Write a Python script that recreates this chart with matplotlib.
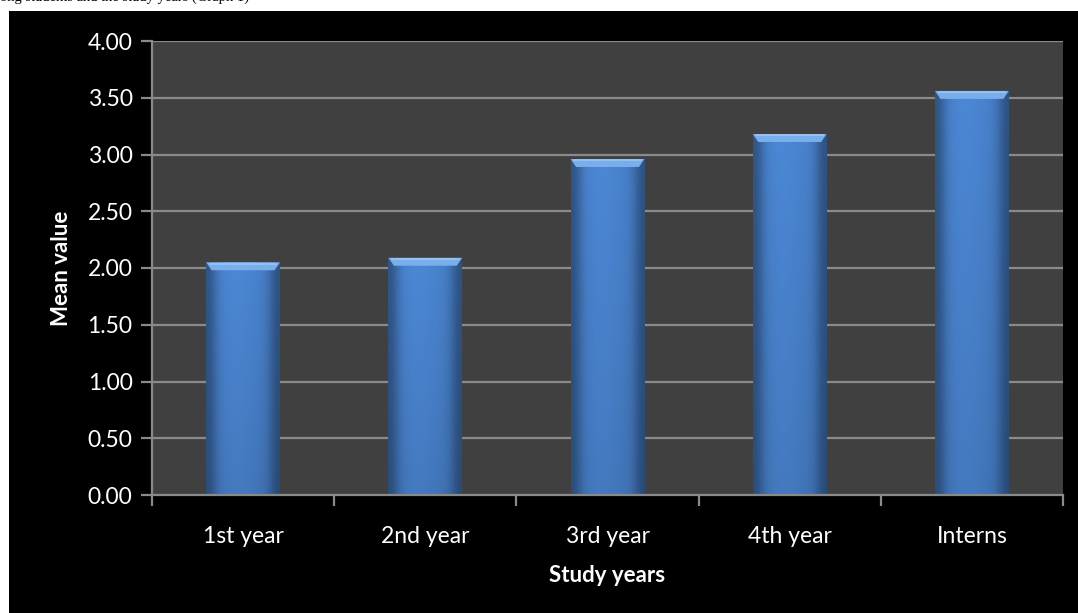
import matplotlib.pyplot as plt
import matplotlib.patches as mpatches
import numpy as np

categories = ["1st year", "2nd year", "3rd year", "4th year", "Interns"]
mean_values = [2.05, 2.09, 2.96, 3.18, 3.56]
y_ticks = [0.0, 0.5, 1.0, 1.5, 2.0, 2.5, 3.0, 3.5, 4.0]

W, H = 1078, 613
fig = plt.figure(figsize=(W / 100, H / 100), dpi=100, facecolor="white")

# cut-off caption line from the page above the chart
fig.text(0.0, 1 - 1 / H, "ong students and the study years (Graph 1)", family="Liberation Serif",
         fontsize=10.5, color="black", ha="left", va="baseline")

# black chart area
fig.add_artist(mpatches.Rectangle((9 / W, 0), 1 - 9 / W, 1 - 11 / H, transform=fig.transFigure,
                                  facecolor="black", edgecolor="none", zorder=-10))

ax = fig.add_axes([152 / W, (H - 495) / H, (1063 - 152) / W, (495 - 41) / H])
ax.set_zorder(1)
ax.set_facecolor("#404040")
ax.set_xlim(-0.5, len(categories) - 0.5)
ax.set_ylim(0, 4)

grid_col = "#8a8a8a"
for y in y_ticks[1:]:
    ax.axhline(y, color=grid_col, lw=1.6, zorder=1)

x = np.arange(len(categories))
width = 0.405
bars = ax.bar(x, mean_values, width=width, color="#4682d0", zorder=2)

# horizontal gradient for the bevelled look
grad = np.array([0.62, 0.92, 0.98, 1.0, 0.99, 0.97, 0.95, 0.88, 0.6])
base = np.array([0x4c, 0x88, 0xd6]) / 255
row = np.clip(grad[:, None] * base[None, :], 0, 1)
img = np.tile(row[None, :, :], (40, 1, 1))
# darken towards the bottom slightly
fade = np.linspace(1.0, 0.9, 40)[:, None, None]
img = img * fade
for b, v in zip(bars, mean_values):
    x0 = b.get_x()
    im = ax.imshow(img, extent=[x0, x0 + width, 0, v], aspect="auto", zorder=3, interpolation="bicubic")
    im.set_clip_path(b)
    # light top cap
    cap = 0.07
    ax.add_patch(mpatches.Polygon([[x0, v], [x0 + width, v], [x0 + width - 0.03, v - cap], [x0 + 0.03, v - cap]],
                                  closed=True, facecolor="#78aeea", edgecolor="none", zorder=4))
    ax.plot([x0 + 0.02, x0 + width - 0.02], [v - 0.012, v - 0.012], color="#9cc6f3", lw=1.2, zorder=5)

for s in ["top", "right"]:
    ax.spines[s].set_visible(False)
for s in ["left", "bottom"]:
    ax.spines[s].set_color(grid_col)
    ax.spines[s].set_linewidth(1.6)
    ax.spines[s].set_zorder(6)

ax.set_yticks(y_ticks)
ax.set_yticklabels([f"{t:.2f}" for t in y_ticks])
ax.set_xticks(x)
ax.set_xticklabels(categories)
ax.set_xticks(np.arange(-0.5, len(categories)), minor=True)
ax.tick_params(axis="y", colors=grid_col, labelcolor="white", length=8, width=1.6,
               labelsize=16.5, pad=6)
ax.tick_params(axis="x", which="major", length=0, labelcolor="white", labelsize=16.5, pad=22)
ax.tick_params(axis="x", which="minor", length=8, width=1.6, colors=grid_col)
for lab in ax.get_xticklabels() + ax.get_yticklabels():
    lab.set_family("Lato")

fig.text(62 / W, 1 - 268 / H, "Mean value", rotation=90, ha="center", va="center",
         color="white", fontsize=16, fontweight="bold", family="Lato")
fig.text(607 / W, 1 - 575 / H, "Study years", ha="center", va="center",
         color="white", fontsize=16, fontweight="bold", family="Lato")

fig.savefig("out.png", dpi=100, facecolor="white")
